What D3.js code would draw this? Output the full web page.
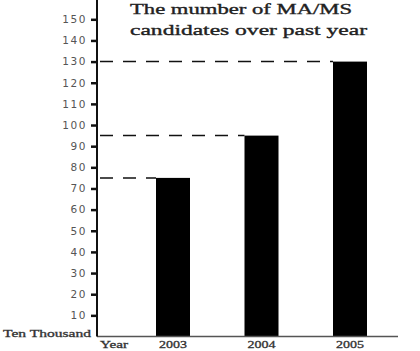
<!DOCTYPE html>
<html>
<head>
<meta charset="utf-8">
<script src="https://cdn.jsdelivr.net/npm/d3@7"></script>
<style>
  body { margin: 0; background: #fff; }
  svg { display: block; }
</style>
</head>
<body>
<div id="chart"></div>
<script>
const years = ["2003", "2004", "2005"];
const candidates = [75, 95, 130];
const tickValues = [10, 20, 30, 40, 50, 60, 70, 80, 90, 100, 110, 120, 130, 140, 150];
const titleLines = ["The mumber of MA/MS", "candidates over past year"];

const width = 420;
const height = 351;
const axisX = 97;
const baseY = 336.5;

const svg = d3.select("#chart")
  .append("svg")
  .attr("width", width)
  .attr("height", height);

const y = d3.scaleLinear([0, 150], [baseY, 19.3]);
const x = d3.scalePoint(years, [173, 350]);
const barWidth = 34;

// title (wide, light serif)
const titleLen = [222, 237];
titleLines.forEach((line, i) => {
  svg.append("text")
    .attr("x", 130).attr("y", 14 + i * 21)
    .attr("font-family", "Liberation Serif, DejaVu Serif, serif")
    .attr("font-size", "14.5px")
    .attr("fill", "#222")
    .attr("stroke", "#222")
    .attr("stroke-width", 0.35)
    .attr("textLength", titleLen[i])
    .attr("lengthAdjust", "spacingAndGlyphs")
    .text(line);
});

// dashed guide lines from axis to bar tops
years.forEach((yr, i) => {
  svg.append("line")
    .attr("x1", axisX)
    .attr("x2", x(yr) - barWidth / 2)
    .attr("y1", y(candidates[i]))
    .attr("y2", y(candidates[i]))
    .attr("stroke", "#111")
    .attr("stroke-width", 1.5)
    .attr("stroke-dasharray", "13,10")
    .attr("stroke-dashoffset", -3);
});

// bars
svg.selectAll(".bar")
  .data(years)
  .join("rect")
  .attr("class", "bar")
  .attr("x", (d) => x(d) - barWidth / 2)
  .attr("y", (d, i) => y(candidates[i]))
  .attr("width", barWidth)
  .attr("height", (d, i) => baseY - y(candidates[i]))
  .attr("fill", "#000");

// baseline
svg.append("line")
  .attr("x1", axisX).attr("x2", 398)
  .attr("y1", baseY).attr("y2", baseY)
  .attr("stroke", "#555")
  .attr("stroke-width", 1.5);

// y axis
const yAxis = svg.append("g")
  .attr("transform", `translate(${axisX},0)`)
  .call(d3.axisLeft(y).tickValues(tickValues).tickSize(6).tickSizeOuter(0).tickPadding(4));

yAxis.select(".domain").remove();
yAxis.selectAll(".tick line")
  .attr("stroke", "#111")
  .attr("stroke-width", 2.5);
yAxis.selectAll(".tick text")
  .attr("font-family", "DejaVu Sans, sans-serif")
  .attr("font-size", "10.5px")
  .attr("letter-spacing", "1.6px")
  .attr("fill", "#555");

svg.append("line")
  .attr("x1", axisX).attr("x2", axisX)
  .attr("y1", 0).attr("y2", baseY)
  .attr("stroke", "#111")
  .attr("stroke-width", 2);

// unit + year labels
const labelStyle = (sel, len) => sel
  .attr("font-family", "Liberation Serif, DejaVu Serif, serif")
  .attr("font-size", "10px")
  .attr("fill", "#333")
  .attr("stroke", "#333")
  .attr("stroke-width", 0.3)
  .attr("textLength", len)
  .attr("lengthAdjust", "spacingAndGlyphs");

svg.append("text")
  .attr("x", 3).attr("y", 337)
  .call(labelStyle, 88)
  .text("Ten Thousand");

svg.append("text")
  .attr("x", 100).attr("y", 348)
  .call(labelStyle, 28)
  .text("Year");

svg.selectAll(".year")
  .data(years)
  .join("text")
  .attr("class", "year")
  .attr("x", (d) => x(d) - 14)
  .attr("y", 348)
  .call(labelStyle, 28)
  .text((d) => d);
</script>
</body>
</html>
